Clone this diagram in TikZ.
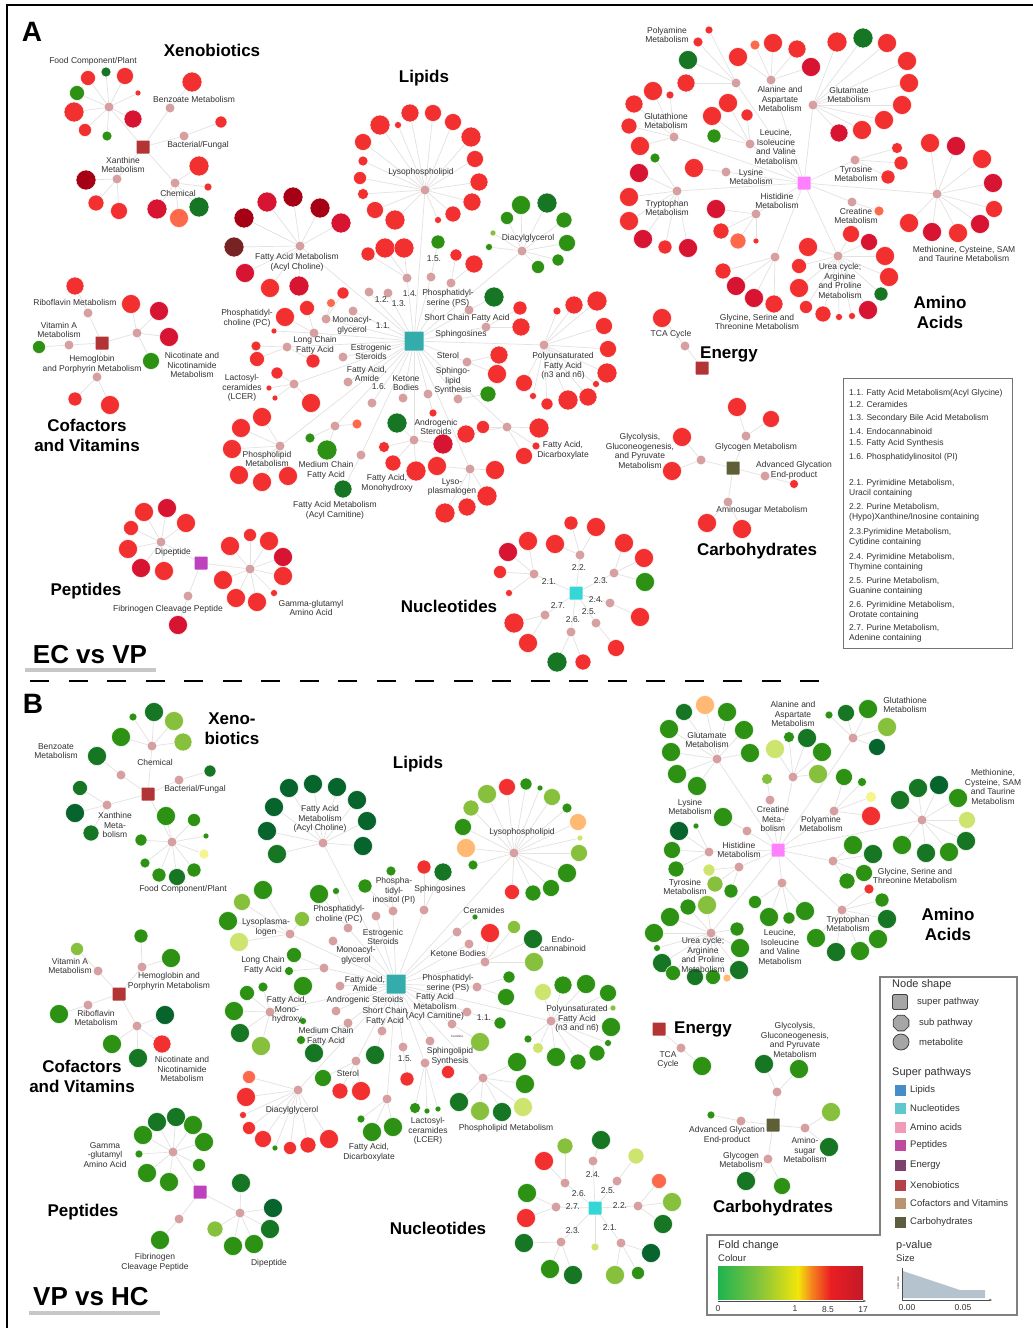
\documentclass[tikz,border=0pt]{standalone}
\usepackage{fontspec}
\setmainfont{Liberation Sans}
\usetikzlibrary{shapes.geometric,arrows.meta}
\definecolor{cR}{RGB}{242,48,48}
\definecolor{cDR}{RGB}{215,20,50}
\definecolor{cVDR}{RGB}{165,0,20}
\definecolor{cBR}{RGB}{120,35,35}
\definecolor{cO}{RGB}{252,105,75}
\definecolor{cG}{RGB}{45,145,20}
\definecolor{cDG}{RGB}{22,118,35}
\definecolor{cVDG}{RGB}{8,100,45}
\definecolor{cLG}{RGB}{135,192,60}
\definecolor{cY}{RGB}{205,228,110}
\definecolor{cPY}{RGB}{245,245,140}
\definecolor{cLO}{RGB}{255,185,115}
\definecolor{hubc}{RGB}{214,160,160}
\definecolor{cLip}{RGB}{52,172,172}
\definecolor{cAmi}{RGB}{255,128,255}
\definecolor{cXen}{RGB}{178,52,52}
\definecolor{cCarb}{RGB}{95,95,55}
\definecolor{cPep}{RGB}{190,65,190}
\definecolor{cNuc}{RGB}{52,214,214}
\definecolor{edgec}{RGB}{226,226,226}
\definecolor{labc}{RGB}{50,50,50}
\definecolor{lgLip}{RGB}{70,140,200}
\definecolor{lgNuc}{RGB}{95,200,205}
\definecolor{lgAmi}{RGB}{240,155,185}
\definecolor{lgPep}{RGB}{190,75,160}
\definecolor{lgEne}{RGB}{125,65,110}
\definecolor{lgXen}{RGB}{180,65,70}
\definecolor{lgCof}{RGB}{185,148,112}
\definecolor{lgCarb}{RGB}{92,92,62}
\newcounter{mc}
\newcounter{lc}
\newif\ifdp
\tikzset{
  edge/.style={draw=edgec, line width=0.7pt},
  met/.style={circle, draw=white, line width=0.5pt, inner sep=0pt},
  subn/.style={circle, fill=hubc, inner sep=0pt, minimum size=9pt},
  supn/.style={rectangle, rounded corners=0.6pt, inner sep=0pt},
  lab/.style={font=\fontsize{8.5}{9.7}\selectfont, text=labc, align=center, inner sep=0pt},
  ttl/.style={font=\fontsize{17}{20}\selectfont\bfseries, align=center, inner sep=0pt},
  panel/.style={font=\fontsize{28}{30}\selectfont\bfseries, inner sep=0pt},
  big/.style={font=\fontsize{26}{28}\selectfont\bfseries, inner sep=0pt},
  legt/.style={font=\fontsize{8.5}{10}\selectfont, text=labc, align=left, anchor=west, inner sep=0pt},
  legs/.style={font=\fontsize{9.5}{11}\selectfont, text=labc, anchor=west, inner sep=0pt},
  legh/.style={font=\fontsize{11}{12}\selectfont, text=labc, anchor=west, inner sep=0pt},
  swatch/.style={rectangle, inner sep=0pt, minimum size=12pt, draw=white, line width=0.4pt},
  barl/.style={draw=black!22, line width=4pt},
}
\newcommand{\supx}[4]{\ifdp\node[supn, fill=#3, minimum size=#4pt] (#1) at (#2) {};\else\node[supn, minimum size=#4pt] (#1) at (#2) {};\fi}
\newcommand{\subp}[4]{%
  \ifdp\node[subn] (#1) at (#2) {};\else\node[subn, fill=none] (#1) at (#2) {};\draw[edge] (#3) -- (#1);\fi
  \foreach \mx/\my/\ms/\mk in {#4}{%
    \stepcounter{mc}\edef\mnm{m\arabic{mc}}%
    \ifdp\node[met, minimum size=\ms pt, fill=c\mk] (\mnm) at (\mx,\my) {};%
    \else\node[met, draw=none, minimum size=\ms pt] (\mnm) at (\mx,\my) {};\draw[edge] (#1) -- (\mnm);\fi
  }}
\newcommand{\subq}[3]{%
  \ifdp\node[subn] (#1) at (#2) {};\else\node[subn, fill=none] (#1) at (#2) {};\draw[edge] (#3) -- (#1);\fi}
\newcommand{\lb}[2]{\stepcounter{lc}\node[lab] (t\arabic{lc}) at (#1) {#2};}
\newcommand{\ttlb}[2]{\stepcounter{lc}\node[ttl] (t\arabic{lc}) at (#1) {#2};}
\newcommand{\netdata}{%
% Xenobiotics A
\supx{XA}{143,147}{cXen}{13}
\subp{xa1}{109,107}{XA}{106/72/10/DG,88/78/15/R,125/76/17/R,77/93/15/G,138/93/6/R,74/112/20/R,133/119/18/DR,85/130/13/R,107/136/10/G}
\subp{xa2}{170,108}{XA}{192/82/20/R}
\subp{xa3}{184,136}{XA}{221/122/12/R}
\subp{xa4}{117,179}{XA}{86/180/20/VDR,96/203/16/R,119/211/17/R}
\subp{xa5}{175,183}{XA}{199/166/20/R,208/187/8/R,157/209/20/DR,179/218/19/O,199/207/20/DG}
% Lipids A
\supx{LA}{414,341}{cLip}{19}
\subp{la1}{425,190}{LA}{380/125/20/R,398/125/7/R,410/113/18/R,433/113/17/R,453/122/17/R,471/137/20/R,475/159/17/R,479/182/18/R,472/202/18/R,453/214/16/R,438/220/7/R,395/220/20/R,375/210/17/R,363/194/11/R,360/178/13/R,363/161/10/R,363/142/17/R}
\subp{la2}{300,246}{LA}{244/218/20/VDR,267/202/20/DR,293/197/20/VDR,320/208/20/VDR,341/223/20/DR,234/247/20/BR,245/273/19/DR,270/288/19/R,299/286/20/DR}
\subp{la3}{522,251}{LA}{521/205/19/G,547/203/20/DG,564/220/16/G,567/243/17/G,558/260/12/G,538/267/13/G,507/218/13/G,493/233/6/LG,489/247/7/G}
\subp{la4}{407,278}{LA}{385/248/20/R,404/248/20/R,368/254/14/R}
\subp{la5}{431,277}{LA}{438/242/14/G}
\subp{la6}{451,283}{LA}{456/255/12/R,474/264/18/R}
\subp{la7}{469,310}{LA}{494/297/20/DG}
\subp{la8}{486,327}{LA}{520/308/14/R,521/327/18/R}
\subp{la9}{544,345}{LA}{557/311/8/R,574/305/18/R,597/301/20/R,604/326/17/R,608/349/17/R,607/373/20/R,596/384/7/R,588/397/18/R,568/400/20/R,547/404/12/R,533/396/7/R,524/383/17/R}
\subp{la10}{467,362}{LA}{499/355/18/R,497/374/19/R}
\subp{la11}{458,399}{LA}{488/394/16/G}
\subp{la12}{428,394}{LA}{433/413/8/R}
\subq{la13}{403,398}{LA}
\subq{la14}{372,403}{LA}
\subq{la15}{348,382}{LA}
\subq{la16}{343,357}{LA}
\subp{la17}{287,347}{LA}{256/346/10/R,257/359/15/R,313/361/14/R}
\subp{la18}{314,333}{LA}{285/317/19/R,307/308/15/R,274/331/6/R}
\subp{la19}{326,319}{LA}{343/293/12/R,331/303/9/O}
\subq{la20}{353,311}{LA}
\subq{la21}{369,292}{LA}
\subq{la22}{388,293}{LA}
\subp{la23}{294,384}{LA}{277/373/12/R,269/388/6/R,275/398/6/R,311/403/19/R}
\subp{la24}{280,446}{LA}{262/417/19/R,241/428/19/R,232/449/19/R,239/475/19/R,262/482/19/R,288/476/19/R}
\subp{la25}{335,426}{LA}{310/438/10/G,327/450/20/G,357/424/10/O}
\subp{la26}{361,455}{LA}{343/489/18/DG}
\subp{la27}{414,440}{LA}{397/423/20/DG,384/447/11/R,393/463/16/R,416/471/20/R,443/444/20/DR}
\subp{la28}{507,427}{LA}{483/427/13/R,466/434/18/R,539/428/20/R,536/446/8/R,524/456/17/R}
\subp{la29}{470,469}{LA}{495/470/19/R,487/496/20/R,467/507/18/R,445/513/20/R,437/466/19/R}
% Amino acids A
\supx{AA}{804,183}{cAmi}{13}
\subp{aa1}{736,83}{AA}{709/30/8/R,698/42/10/R,688/60/19/DG,686/83/18/R}
\subp{aa2}{771,80}{AA}{738/57/19/R,755/45/10/O,773/43/19/R,797/49/18/R,811/67/19/DR}
\subp{aa3}{813,105}{AA}{837/42/20/R,863/38/20/DG,887/43/19/R,907/61/19/R,909/83/19/R,902/105/19/R,884/120/19/R,862/130/19/R,839/133/18/DR}
\subp{aa4}{674,137}{AA}{653/91/19/R,670/95/8/R,634/104/18/R,629/126/16/R,640/146/19/R}
\subp{aa5}{750,144}{AA}{728/103/19/R,712/116/19/R,747/115/12/R,714/136/14/G}
\subp{aa6}{726,172}{AA}{694/168/19/R}
\subp{aa7}{677,191}{AA}{655/158/10/G,639/173/19/DR,629/197/19/R,629/221/19/R,643/239/19/DR,665/247/14/R,688/248/19/DR}
\subp{aa8}{756,214}{AA}{716/209/19/DR,721/231/16/R,738/241/16/O,756/241/6/R}
\subp{aa9}{855,160}{AA}{897/148/11/R,901/163/14/R,888/177/14/R}
\subp{aa10}{852,202}{AA}{879/211/10/O}
\subp{aa11}{937,194}{AA}{930/143/19/R,956/146/19/DR,982/159/19/R,993/183/19/DR,994/209/17/R,980/224/19/DR,958/233/19/R,932/232/19/DR,909/223/19/R}
\subp{aa12}{838,256}{AA}{851/234/17/R,869/242/17/DR,885/256/19/R,889/277/19/R,881/294/14/DG,868/310/19/DR,852/316/7/R,839/317/7/R,823/314/16/R,806/307/13/R,799/288/19/R,799/266/15/R,808/247/19/R}
\subp{aa13}{775,257}{AA}{723/271/16/R,736/286/19/DR,754/298/19/DR,774/304/18/R}
% Energy A
\supx{EA}{702,368}{cXen}{13}
\subp{ea1}{685,346}{EA}{662/318/19/R}
% Carbohydrates A
\supx{CA}{733,468}{cCarb}{13}
\subp{ca1}{701,460}{CA}{682/437/19/R,672/471/19/R}
\subp{ca2}{746,436}{CA}{737/407/19/R,771/419/17/R}
\subp{ca3}{765,476}{CA}{794/484/9/R}
\subp{ca4}{728,502}{CA}{707/523/19/R,742/529/19/R}
% Nucleotides A
\supx{NA}{576,593}{cNuc}{13}
\subp{na1}{534,574}{NA}{508/552/19/DR,500/572/13/R,509/593/7/R,528/541/19/R}
\subp{na2}{580,555}{NA}{571/523/14/R,596/527/19/R,555/544/19/R}
\subp{na3}{614,573}{NA}{624/543/19/R,644/558/19/R,645/582/19/G}
\subp{na4}{610,603}{NA}{640/617/19/R}
\subp{na5}{596,623}{NA}{616/648/17/R}
\subp{na6}{571,632}{NA}{557/662/20/DG,583/662/16/R}
\subp{na7}{545,615}{NA}{514/623/20/R,528/643/19/R}
% Cofactors A
\supx{CoA}{102,343}{cXen}{13}
\subp{coa1}{88,313}{CoA}{75/286/18/R}
\subp{coa2}{69,345}{CoA}{39/347/13/G}
\subp{coa3}{137,333}{CoA}{131/304/19/R,159/311/19/DR,169/337/19/DR,151/361/17/G}
\subp{coa4}{97,377}{CoA}{75/399/14/R,110/405/19/R}
% Peptides A
\supx{PA}{201,563}{cPep}{13}
\subp{pa1}{161,542}{PA}{144/512/19/R,167/508/19/DR,186/523/19/R,131/528/15/R,128/549/19/R,141/568/19/DR,164/571/19/R}
\subp{pa2}{250,569}{PA}{230/546/19/R,250/535/13/R,269/541/19/R,283/557/19/DR,283/576/19/R,274/593/7/R,257/602/19/R,236/598/19/R,223/580/19/R}
\subp{pa3}{188,596}{PA}{178/625/19/DR}
% Xenobiotics B
\supx{XB}{148,794}{cXen}{13}
\subp{xb1}{152,746}{XB}{133/717/8/G,154/712/19/DG,174/721/19/LG,183/742/18/LG,121/737/19/G}
\subp{xb2}{121,775}{XB}{97/756/19/DG}
\subp{xb3}{179,780}{XB}{210/771/12/DG}
\subp{xb4}{107,805}{XB}{80/788/15/DG,75/813/19/VDG,91/833/16/DG}
\subp{xb5}{172,842}{XB}{166/816/19/G,194/820/13/G,206/836/6/G,204/854/10/PY,194/870/14/G,177/877/17/DG,159/875/14/G,145/863/10/G,141/840/12/G}
% Lipids B
\supx{LB}{396,984}{cLip}{19}
\subp{lb1}{323,843}{LB}{277/854/19/DG,267/831/19/VDG,274/807/19/VDG,289/788/19/VDG,313/784/19/VDG,337/787/19/VDG,357/800/19/VDG,367/821/19/VDG,363/846/19/VDG}
\subp{lb2}{514,853}{LB}{507/787/17/R,526/784/12/G,540/788/6/G,552/797/17/LG,567/808/10/G,578/822/17/LO,580/838/6/Y,579/853/17/LG,567/873/19/G,551/888/17/G,533/893/16/G,512/892/15/R,473/865/10/G,466/848/19/LO,463/827/17/G,471/808/16/LG,487/794/19/LG}
\subp{lb3}{424,910}{LB}{424/867/14/R,443/872/18/DG}
\subp{lb4}{393,911}{LB}{391/871/10/G,365/886/14/G}
\subq{lb5}{376,916}{LB}
\subp{lb6}{348,928}{LB}{319/894/19/G,336/891/7/G}
\subp{lb7}{290,934}{LB}{263/890/19/G,242/902/17/LG,228/921/19/G,239/942/19/Y,302/919/15/LG}
\subq{lb8}{333,941}{LB}
\subp{lb9}{324,968}{LB}{294/955/15/G,289/971/9/G}
\subq{lb10}{340,986}{LB}
\subp{lb11}{270,1012}{LB}{247/993/15/G,263/987/10/G,234/1011/19/G,240/1033/19/DG,261/1046/19/LG,303/1021/7/G,303/986/19/G}
\subq{lb12}{336,1011}{LB}
\subp{lb13}{348,1023}{LB}{301/1040/9/G,314/1053/19/DG}
\subp{lb14}{382,1031}{LB}{375/1055/19/DG}
\subp{lb15}{452,1024}{LB}{480/1042/19/LG}
\subp{lb16}{477,987}{LB}{509/977/12/G,506/997/17/G}
\subp{lb17}{467,1012}{LB}{500/1023/12/G}
\subp{lb18}{457,932}{LB}{475/917/6/G}
\subq{lb19}{469,944}{LB}
\subp{lb20}{485,962}{LB}{490/933/19/R,514/927/13/LG,533/939/19/DG,534/962/19/LG}
\subp{lb21}{551,1021}{LB}{543/992/17/Y,563/985/18/G,586/984/19/G,608/993/17/G,613/1008/6/LG,611/1027/19/G,608/1043/7/G,597/1053/16/G,578/1062/16/G,556/1057/19/G,538/1048/11/Y,528/1039/8/G}
\subp{lb22}{403,1047}{LB}{407/1079/14/R}
\subp{lb23}{430,1041}{LB}{448/1072/13/R}
\subp{lb24}{425,1063}{LB}{415/1108/11/G,427/1111/6/G,438/1109/6/G}
\subp{lb25}{356,1061}{LB}{323/1078/17/G,340/1091/16/R,361/1091/19/R}
\subp{lb26}{298,1090}{LB}{249/1077/13/O,246/1097/19/R,243/1115/7/R,249/1128/13/R,263/1139/17/R,275/1148/6/G,290/1148/13/R,308/1145/16/R,329/1139/19/R}
\subp{lb27}{387,1099}{LB}{361/1119/8/G,372/1132/19/G,393/1127/19/G}
\subp{lb28}{483,1078}{LB}{517/1062/19/G,525/1084/19/G,523/1107/19/Y,502/1112/19/DG,480/1111/19/LG,459/1102/19/DG}
% Amino acids B
\supx{AB}{778,850}{cAmi}{13}
\subp{ab1}{717,759}{AB}{684/712/17/DG,705/705/19/LO,727/712/19/G,744/730/19/G,750/753/19/G,697/786/19/G,677/774/19/G,671/752/19/G,669/729/19/G}
\subp{ab2}{793,777}{AB}{775/749/19/Y,789/737/11/G,807/738/19/DG,822/752/19/G,818/774/19/LG}
\subp{ab3}{853,738}{AB}{829/715/8/G,846/713/17/DG,868/709/19/G,887/727/19/LG,877/747/17/VDG}
\subp{ab4}{770,800}{AB}{767/779/11/LG}
\subp{ab5}{834,811}{AB}{844/777/17/G,862/782/9/G,871/797/11/PY,871/816/19/R}
\subp{ab6}{922,820}{AB}{900/800/19/DG,918/788/19/DG,939/785/19/VDG,958/798/19/G,967/820/17/Y,966/841/19/DG,949/852/19/G,926/853/19/DG,902/845/19/G}
\subp{ab7}{747,831}{AB}{723/817/19/G}
\subp{ab8}{709,852}{AB}{679/831/19/VDG,696/826/6/G,672/850/17/G,676/869/16/G}
\subp{ab9}{739,867}{AB}{709/870/12/Y,715/884/16/LG,731/891/14/G}
\subp{ab10}{833,861}{AB}{853/845/19/G,873/854/19/DG,864/873/17/G,847/881/16/G}
\subp{ab11}{782,883}{AB}{755/902/13/G,769/917/19/G,789/918/12/G,805/911/19/G}
\subp{ab12}{842,910}{AB}{869/889/10/R,882/900/14/G,887/919/19/DG,878/939/19/G,860/951/19/G,836/952/19/DG,816/938/19/G}
\subp{ab13}{711,933}{AB}{688/907/16/G,707/905/19/LG,737/929/14/G,740/948/19/G,739/970/19/DG,670/917/19/G,654/933/19/G,657/948/7/G,662/963/19/DG,673/973/15/G,695/977/17/DG,713/977/15/G,727/978/8/LO}
% Energy B
\supx{EB}{659,1029}{cXen}{13}
\subp{eb1}{681,1048}{EB}{702/1066/19/G}
% Carbohydrates B
\supx{CB}{773,1125}{cCarb}{13}
\subp{cb1}{777,1092}{CB}{764/1064/19/DG,799/1069/19/G}
\subp{cb2}{741,1121}{CB}{711/1115/8/G}
\subp{cb3}{805,1128}{CB}{831/1112/19/LG,829/1147/19/DG}
\subp{cb4}{768,1159}{CB}{746/1181/19/DG,782/1186/17/G}
% Nucleotides B
\supx{NB}{595,1208}{cNuc}{13}
\subp{nb1}{593,1161}{NB}{601/1140/19/DG}
\subp{nb2}{565,1183}{NB}{565/1146/16/LG,544/1161/19/R}
\subp{nb3}{617,1181}{NB}{636/1156/16/Y}
\subp{nb4}{638,1206}{NB}{659/1181/15/O,672/1202/19/LG,663/1224/19/DG}
\subp{nb5}{621,1243}{NB}{651/1253/19/VDG,638/1273/13/G,615/1275/19/LG}
\subp{nb6}{561,1242}{NB}{524/1243/19/DG,550/1269/19/G,573/1275/19/DG}
\subp{nb7}{556,1207}{NB}{527/1193/19/G,526/1218/19/R}
\ifdp\node[met, minimum size=8pt, fill=cY] (nbx) at (595,1247) {};\else\node[met, draw=none, minimum size=8pt] (nbx) at (595,1247) {};\draw[edge] (NB) -- (nbx);\fi
% Cofactors B
\supx{CoB}{119,994}{cXen}{13}
\subp{cob1}{98,971}{CoB}{77/949/13/LG}
\subp{cob2}{142,967}{CoB}{141/936/14/G,171/958/19/G}
\subp{cob3}{88,1005}{CoB}{59/1014/19/G}
\subp{cob4}{137,1026}{CoB}{165/1015/19/VDG,112/1044/19/G,138/1058/19/DG,162/1044/18/R}
% Peptides B
\supx{PB}{200,1192}{cPep}{13}
\subp{pb1}{173,1152}{PB}{143/1135/19/G,157/1122/19/DG,176/1117/19/DG,193/1125/19/G,204/1142/19/G,199/1165/13/G,169/1182/19/G,147/1173/19/G,139/1154/8/G}
\subp{pb2}{240,1213}{PB}{241/1183/19/DG,273/1208/19/VDG,270/1229/19/DG,254/1244/19/G,233/1246/19/G,215/1229/16/LG}
\subp{pb3}{179,1219}{PB}{160/1240/19/G}
}
\begin{document}
\begin{tikzpicture}[x=1pt,y=-1pt]
\fill[white] (0,0) rectangle (1033,1328);
\useasboundingbox (0,0) rectangle (1033,1328);
% frame
\draw[line width=2.5pt] (7,1328) -- (7,5) -- (1033,5);
\draw[line width=2pt, dash pattern=on 19pt off 19.5pt] (30,681) -- (835,681);

% network: pass 1 connectors, pass 2 nodes
\dpfalse\setcounter{mc}{0}
\netdata
\dptrue\setcounter{mc}{0}
\netdata

%================ PANEL A texts ================
\node[panel] (pA) at (32,32) {A};
\node[big] (ecvp) at (90,655) {EC vs VP};
\draw[barl] (25,670) -- (156,670);
\ttlb{212,50}{Xenobiotics}
\ttlb{424,78}{Lipids}
\ttlb{940,312}{Amino\\Acids}
\ttlb{729,354}{Energy}
\ttlb{87,435}{Cofactors\\and Vitamins}
\ttlb{86,591}{Peptides}
\ttlb{449,606}{Nucleotides}
\ttlb{757,551}{Carbohydrates}
\lb{93,61}{Food Component/Plant}
\lb{194,99}{Benzoate Metabolism}
\lb{198,145}{Bacterial/Fungal}
\lb{123,165}{Xanthine\\Metabolism}
\lb{178,193}{Chemical}
\lb{421,172}{Lysophospholipid}
\lb{297,262}{Fatty Acid Metabolism\\(Acyl Choline)}
\lb{528,238}{Diacylglycerol}
\lb{410,294}{1.4.}
\lb{434,259}{1.5.}
\lb{448,298}{Phosphatidyl-\\serine (PS)}
\lb{467,318}{Short Chain Fatty Acid}
\lb{461,334}{Sphingosines}
\lb{563,366}{Polyunsaturated\\Fatty Acid\\(n3 and n6)}
\lb{448,355}{Sterol}
\lb{453,381}{Sphingo-\\lipid\\Synthesis}
\lb{436,427}{Androgenic\\Steroids}
\lb{406,383}{Ketone\\Bodies}
\lb{379,387}{1.6.}
\lb{367,374}{Fatty Acid,\\Amide}
\lb{371,352}{Estrogenic\\Steroids}
\lb{315,345}{Long Chain\\Fatty Acid}
\lb{247,318}{Phosphatidyl-\\choline (PC)}
\lb{352,325}{Monoacyl-\\glycerol}
\lb{383,326}{1.1.}
\lb{382,300}{1.2.}
\lb{399,304}{1.3.}
\lb{242,388}{Lactosyl-\\ceramides\\(LCER)}
\lb{267,459}{Phospholipid\\Metabolism}
\lb{326,470}{Medium Chain\\Fatty Acid}
\lb{335,510}{Fatty Acid Metabolism\\(Acyl Carnitine)}
\lb{387,483}{Fatty Acid,\\Monohydroxy}
\lb{563,450}{Fatty Acid,\\Dicarboxylate}
\lb{452,487}{Lyso-\\plasmalogen}
\lb{667,35}{Polyamine\\Metabolism}
\lb{780,99}{Alanine and\\Aspartate\\Metabolism}
\lb{849,95}{Glutamate\\Metabolism}
\lb{666,121}{Glutathione\\Metabolism}
\lb{776,147}{Leucine,\\Isoleucine\\and Valine\\Metabolism}
\lb{751,177}{Lysine\\Metabolism}
\lb{667,208}{Tryptophan\\Metabolism}
\lb{777,201}{Histidine\\Metabolism}
\lb{856,174}{Tyrosine\\Metabolism}
\lb{856,216}{Creatine\\Metabolism}
\lb{964,254}{Methionine, Cysteine, SAM\\and Taurine Metabolism}
\lb{840,281}{Urea cycle;\\Arginine\\and Proline\\Metabolism}
\lb{757,322}{Glycine, Serine and\\Threonine Metabolism}
\lb{671,334}{TCA Cycle}
\lb{640,451}{Glycolysis,\\Gluconeogenesis,\\and Pyruvate\\Metabolism}
\lb{756,447}{Glycogen Metabolism}
\lb{794,470}{Advanced Glycation\\End-product}
\lb{762,510}{Aminosugar Metabolism}
\lb{549,582}{2.1.}
\lb{579,568}{2.2.}
\lb{601,581}{2.3.}
\lb{596,600}{2.4.}
\lb{589,612}{2.5.}
\lb{573,620}{2.6.}
\lb{558,606}{2.7.}
\lb{75,302}{Riboflavin Metabolism}
\lb{59,330}{Vitamin A\\Metabolism}
\lb{192,365}{Nicotinate and\\Nicotinamide\\Metabolism}
\lb{92,364}{Hemoglobin\\and Porphyrin Metabolism}
\lb{173,552}{Dipeptide}
\lb{311,608}{Gamma-glutamyl\\Amino Acid}
\lb{168,609}{Fibrinogen Cleavage Peptide}

% Legend A
\node[draw=black!55, line width=1pt, minimum width=169pt, minimum height=270pt, inner sep=0pt] (legA) at (927.5,513) {};
\node[legt] (la_1) at (849,393) {1.1. Fatty Acid Metabolism(Acyl Glycine)};
\node[legt] (la_2) at (849,404) {1.2. Ceramides};
\node[legt] (la_3) at (849,418) {1.3. Secondary Bile Acid Metabolism};
\node[legt] (la_4) at (849,431) {1.4. Endocannabinoid};
\node[legt] (la_5) at (849,443) {1.5. Fatty Acid Synthesis};
\node[legt] (la_6) at (849,457) {1.6. Phosphatidylinositol (PI)};
\node[legt] (la_7) at (849,488) {2.1. Pyrimidine Metabolism,\\Uracil containing};
\node[legt] (la_8) at (849,512) {2.2. Purine Metabolism,\\(Hypo)Xanthine/Inosine containing};
\node[legt] (la_9) at (849,537) {2.3.Pyrimidine Metabolism,\\Cytidine containing};
\node[legt] (la_10) at (849,562) {2.4. Pyrimidine Metabolism,\\Thymine containing};
\node[legt] (la_11) at (849,586) {2.5. Purine Metabolism,\\Guanine containing};
\node[legt] (la_12) at (849,610) {2.6. Pyrimidine Metabolism,\\Orotate containing};
\node[legt] (la_13) at (849,633) {2.7. Purine Metabolism,\\Adenine containing};

%================ PANEL B texts ================
\node[panel] (pB) at (33,704) {B};
\node[big] (vphc) at (91,1297) {VP vs HC};
\draw[barl] (29,1313) -- (160,1313);
\ttlb{232,729}{Xeno-\\biotics}
\ttlb{418,764}{Lipids}
\ttlb{948,924}{Amino\\Acids}
\ttlb{703,1029}{Energy}
\ttlb{82,1076}{Cofactors\\and Vitamins}
\ttlb{83,1212}{Peptides}
\ttlb{438,1228}{Nucleotides}
\ttlb{773,1208}{Carbohydrates}
\lb{155,762}{Chemical}
\lb{56,751}{Benzoate\\Metabolism}
\lb{195,789}{Bacterial/Fungal}
\lb{115,825}{Xanthine\\Meta-\\bolism}
\lb{183,889}{Food Component/Plant}
\lb{320,819}{Fatty Acid\\Metabolism\\(Acyl Choline)}
\lb{522,832}{Lysophospholipid}
\lb{440,889}{Sphingosines}
\lb{394,891}{Phospha-\\tidyl-\\inositol (PI)}
\lb{383,937}{Estrogenic\\Steroids}
\lb{339,914}{Phosphatidyl-\\choline (PC)}
\lb{266,927}{Lysoplasma-\\logen}
\lb{356,955}{Monoacyl-\\glycerol}
\lb{263,965}{Long Chain\\Fatty Acid}
\lb{365,984}{Fatty Acid,\\Amide}
\lb{287,1010}{Fatty Acid,\\Mono-\\hydroxy}
\lb{365,1000}{Androgenic Steroids}
\lb{326,1036}{Medium Chain\\Fatty Acid}
\lb{385,1016}{Short Chain\\Fatty Acid}
\lb{435,1007}{Fatty Acid\\Metabolism\\(Acyl Carnitine)}
\lb{448,983}{Phosphatidyl-\\serine (PS)}
\lb{484,1018}{1.1.}
\lb{484,910}{Ceramides}
\lb{458,953}{Ketone Bodies}
\lb{563,944}{Endo-\\cannabinoid}
\lb{577,1019}{Polyunsaturated\\Fatty Acid\\(n3 and n6)}
\lb{405,1059}{1.5.}
\lb{450,1056}{Sphingolipid\\Synthesis}
\lb{428,1131}{Lactosyl-\\ceramides\\(LCER)}
\lb{348,1073}{Sterol}
\lb{292,1110}{Diacylglycerol}
\lb{369,1152}{Fatty Acid,\\Dicarboxylate}
\lb{506,1128}{Phospholipid Metabolism}
\node[font=\fontsize{3}{3}\selectfont, text=labc, inner sep=0pt] (tcarn) at (457,1036) {Carnitine};
\lb{707,740}{Glutamate\\Metabolism}
\lb{793,714}{Alanine and\\Aspartate\\Metabolism}
\lb{905,705}{Glutathione\\Metabolism}
\lb{773,819}{Creatine\\Meta-\\bolism}
\lb{821,824}{Polyamine\\Metabolism}
\lb{993,787}{Methionine,\\Cysteine, SAM\\and Taurine\\Metabolism}
\lb{690,807}{Lysine\\Metabolism}
\lb{739,850}{Histidine\\Metabolism}
\lb{685,887}{Tyrosine\\Metabolism}
\lb{915,876}{Glycine, Serine and\\Threonine Metabolism}
\lb{780,947}{Leucine,\\Isoleucine\\and Valine\\Metabolism}
\lb{848,924}{Tryptophan\\Metabolism}
\lb{703,955}{Urea cycle;\\Arginine\\and Proline\\Metabolism}
\lb{668,1060}{TCA\\Cycle}
\lb{795,1040}{Glycolysis,\\Gluconeogenesis,\\and Pyruvate\\Metabolism}
\lb{727,1135}{Advanced Glycation\\End-product}
\lb{805,1150}{Amino-\\sugar\\Metabolism}
\lb{741,1160}{Glycogen\\Metabolism}
\lb{593,1175}{2.4.}
\lb{579,1194}{2.6.}
\lb{608,1191}{2.5.}
\lb{620,1206}{2.2.}
\lb{610,1228}{2.1.}
\lb{573,1231}{2.3.}
\lb{573,1207}{2.7.}
\lb{70,966}{Vitamin A\\Metabolism}
\lb{169,981}{Hemoglobin and\\Porphyrin Metabolism}
\lb{96,1018}{Riboflavin\\Metabolism}
\lb{182,1069}{Nicotinate and\\Nicotinamide\\Metabolism}
\lb{105,1155}{Gamma\\-glutamyl\\Amino Acid}
\lb{269,1263}{Dipeptide}
\lb{155,1262}{Fibrinogen\\Cleavage Peptide}

% Legend B
\draw[draw=black!50, line width=1.1pt] (880,977) -- (1017,977) -- (1017,1315) -- (707,1315) -- (707,1235) -- (880,1235) -- cycle;
\node[legh] (lgh1) at (892,985) {Node shape};
\node[rectangle, rounded corners=1.5pt, fill=black!35, draw=black!75, line width=0.8pt, minimum size=15pt, inner sep=0pt] (lgsq) at (900,1002) {};
\node[legs] (lgsqt) at (917,1002) {super pathway};
\node[regular polygon, regular polygon sides=8, fill=black!35, draw=black!75, line width=0.8pt, minimum size=17pt, inner sep=0pt] (lgoc) at (901,1023) {};
\node[legs] (lgoct) at (919,1023) {sub pathway};
\node[circle, fill=black!35, draw=black!75, line width=0.8pt, minimum size=16pt, inner sep=0pt] (lgci) at (901,1042) {};
\node[legs] (lgcit) at (919,1042) {metabolite};
\node[legh] (lgh2) at (892,1073) {Super pathways};
\node[swatch, fill=lgLip] (sw1) at (900,1090) {};
\node[legs] (sw1t) at (910,1090) {Lipids};
\node[swatch, fill=lgNuc] (sw2) at (900,1108) {};
\node[legs] (sw2t) at (910,1108) {Nucleotides};
\node[swatch, fill=lgAmi] (sw3) at (900,1127) {};
\node[legs] (sw3t) at (910,1127) {Amino acids};
\node[swatch, fill=lgPep] (sw4) at (900,1145) {};
\node[legs] (sw4t) at (910,1145) {Peptides};
\node[swatch, fill=lgEne] (sw5) at (900,1165) {};
\node[legs] (sw5t) at (910,1165) {Energy};
\node[swatch, fill=lgXen] (sw6) at (900,1185) {};
\node[legs] (sw6t) at (910,1185) {Xenobiotics};
\node[swatch, fill=lgCof] (sw7) at (900,1203) {};
\node[legs] (sw7t) at (910,1203) {Cofactors and Vitamins};
\node[swatch, fill=lgCarb] (sw8) at (900,1222) {};
\node[legs] (sw8t) at (910,1222) {Carbohydrates};
% Fold change
\node[legh] (fc1) at (718,1246) {Fold change};
\node[legs] (fc2) at (718,1258) {Colour};
\shade[left color={rgb,255:red,30;green,180;blue,80}, right color={rgb,255:red,130;green,195;blue,60}] (718,1266) rectangle (758.5,1299);
\shade[left color={rgb,255:red,130;green,195;blue,60}, right color={rgb,255:red,242;green,230;blue,10}] (758,1266) rectangle (798.5,1299);
\shade[left color={rgb,255:red,242;green,230;blue,10}, right color={rgb,255:red,245;green,140;blue,30}] (798,1266) rectangle (810.5,1299);
\shade[left color={rgb,255:red,245;green,140;blue,30}, right color={rgb,255:red,235;green,30;blue,35}] (810,1266) rectangle (830.5,1299);
\shade[left color={rgb,255:red,235;green,30;blue,35}, right color={rgb,255:red,195;green,25;blue,40}] (830,1266) rectangle (863,1299);
\draw[black!70, line width=0.5pt, -{Stealth[length=3pt]}] (718,1301) -- (866,1301);
\node[lab] (fct0) at (718,1309) {0};
\node[lab] (fct1) at (795,1309) {1};
\node[lab] (fct2) at (828,1310) {8.5};
\node[lab] (fct3) at (863,1310) {17};
% p-value
\node[legh] (pv1) at (896,1246) {p-value};
\node[legs] (pv2) at (896,1258) {Size};
\fill[fill={rgb,255:red,180;green,195;blue,205}] (903,1271) -- (960,1290) -- (985,1290) -- (985,1298) -- (903,1298) -- cycle;
\draw[black!70, line width=0.5pt, -{Stealth[length=3pt]}] (902,1268) -- (902,1300) -- (992,1300);
\node[font=\fontsize{3}{3}\selectfont, rotate=90, text=labc, inner sep=0pt] (pvns) at (898,1283) {node size};
\node[lab] (pvt0) at (907,1308) {0.00};
\node[lab] (pvt1) at (963,1308) {0.05};
\end{tikzpicture}
\end{document}
